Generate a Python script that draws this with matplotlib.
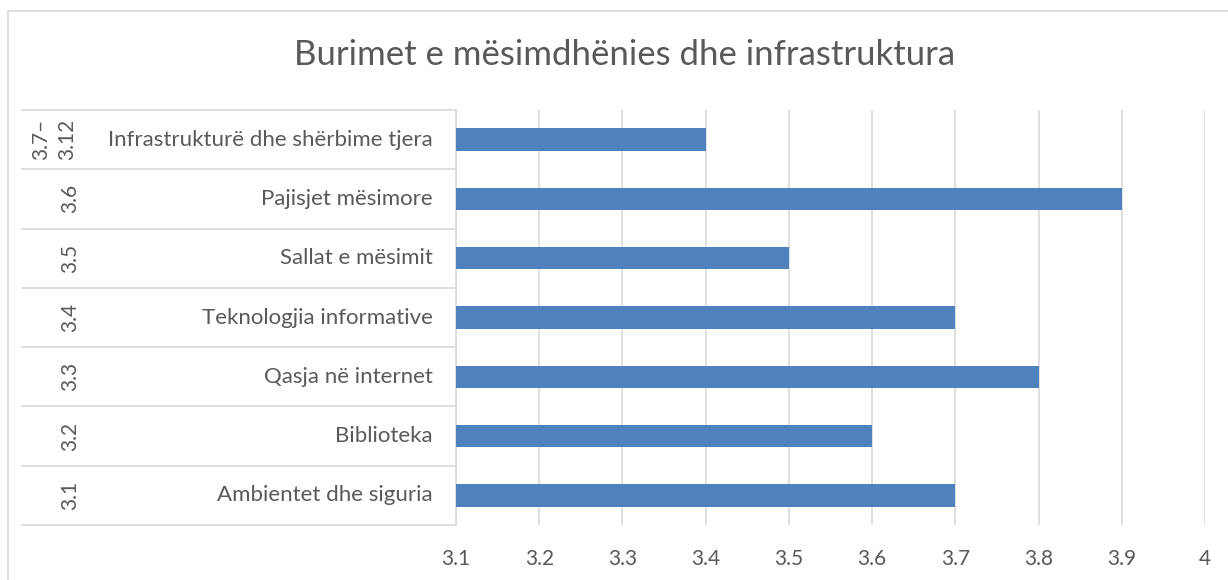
import numpy as np
import matplotlib.pyplot as plt

plt.rcParams['font.family'] = ['Lato', 'DejaVu Sans']

# categories (bottom to top)
codes = ['3.1', '3.2', '3.3', '3.4', '3.5', '3.6', '3.7–\n3.12']
labels = ['Ambientet dhe siguria', 'Biblioteka', 'Qasja në internet',
          'Teknologjia informative', 'Sallat e mësimit', 'Pajisjet mësimore',
          'Infrastrukturë dhe shërbime tjera']
values = [3.7, 3.6, 3.8, 3.7, 3.5, 3.9, 3.4]
xticks = [3.1, 3.2, 3.3, 3.4, 3.5, 3.6, 3.7, 3.8, 3.9, 4.0]
xticklabels = ['3.1', '3.2', '3.3', '3.4', '3.5', '3.6', '3.7', '3.8', '3.9', '4']

W, H = 1228, 580
fig = plt.figure(figsize=(W / 100, H / 100), dpi=100)
txt = '#595959'
grid = '#D9D9D9'

# outer chart border
fig.patches.append(plt.Rectangle((8 / W, -0.05), 1.05, 1 - 11 / H + 0.05,
                                 transform=fig.transFigure, fill=False,
                                 edgecolor=grid, lw=1.2))

ax = fig.add_axes([456 / W, (H - 525) / H, (1205 - 456) / W, (525 - 110) / H])
xmin, xmax = 3.1, 4.0
y = np.arange(len(values))
ax.barh(y, np.array(values) - xmin, left=xmin, height=0.38, color='#4F81BD', zorder=3)
ax.set_xlim(xmin, xmax)
ax.set_ylim(-0.5, len(values) - 0.5)
ax.set_xticks(xticks)
ax.set_xticklabels(xticklabels, color=txt, fontsize=15)
ax.tick_params(axis='x', length=0, pad=17)
ax.set_yticks([])
for s in ['top', 'right', 'bottom']:
    ax.spines[s].set_visible(False)
ax.spines['left'].set_color(grid)
ax.spines['left'].set_linewidth(1.2)
ax.xaxis.grid(True, color=grid, lw=1.2, zorder=0)
ax.set_axisbelow(True)

# category table on the left
x0 = (22 - 456) / (1205 - 456)
for b in np.arange(len(values) + 1) - 0.5:
    ax.plot([x0, 0], [b, b], transform=ax.get_yaxis_transform(), color=grid,
            lw=1.2, clip_on=False)
for i, (c, l) in enumerate(zip(codes, labels)):
    ax.text(-23 / 749, i, l, transform=ax.get_yaxis_transform(), ha='right',
            va='center', fontsize=16, color=txt)
    cx = 70 if '\n' not in c else 54
    ax.text((cx - 456) / 749, i, c, transform=ax.get_yaxis_transform(), ha='center',
            va='center', fontsize=15, color=txt, rotation=90, linespacing=1.4,
            multialignment='right')

fig.text(625 / W, 1 - 55 / H, 'Burimet e mësimdhënies dhe infrastruktura',
         ha='center', va='center', fontsize=25, color=txt)

fig.savefig('out.png', dpi=100)
